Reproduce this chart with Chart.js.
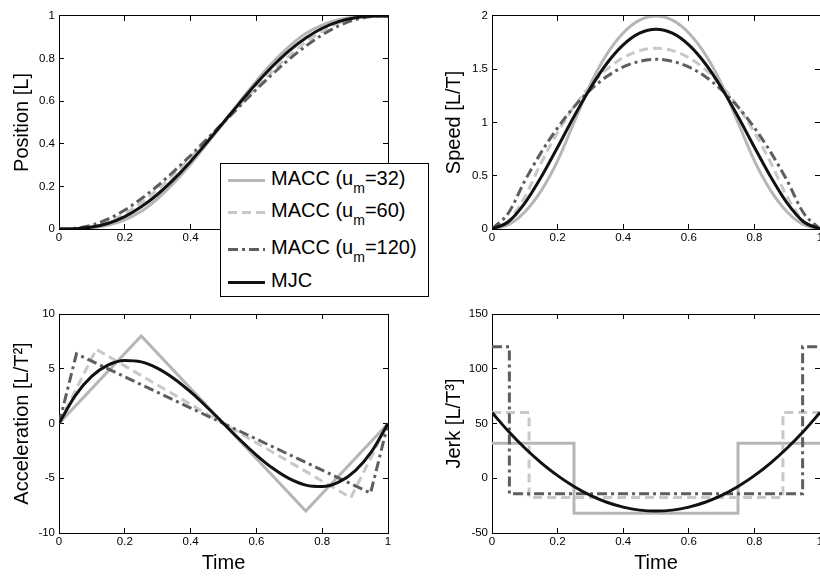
<!DOCTYPE html>
<html><head><meta charset="utf-8">
<script src="https://cdn.jsdelivr.net/npm/chart.js@4.4.1/dist/chart.umd.min.js"></script>
<style>
html,body{margin:0;padding:0;background:#fff;width:820px;height:578px;overflow:hidden;}
#wrap{position:relative;width:820px;height:578px;overflow:hidden;background:#fff;}
canvas{position:absolute;}
#legend{position:absolute;left:220px;top:163px;width:207px;height:132px;border:1px solid #000;background:#fff;
  font-family:'Liberation Sans',Arial,sans-serif;font-size:20px;color:#000;z-index:5;}
.row{position:absolute;left:0;width:207px;height:24px;line-height:24px;white-space:nowrap;color:#000;}
.row svg{position:absolute;left:7px;top:0;}
.row span{position:absolute;left:50px;top:-2px;color:#000;}
.row sub{font-size:14px;vertical-align:-8px;line-height:0;color:#000;}
</style></head>
<body>
<div id="wrap">
  <canvas id="cPos" width="410" height="290" style="left:0;top:0;width:410px;height:290px"></canvas>
  <canvas id="cSpd" width="430" height="290" style="left:410px;top:0;width:430px;height:290px"></canvas>
  <canvas id="cAcc" width="410" height="288" style="left:0;top:290px;width:410px;height:288px"></canvas>
  <canvas id="cJrk" width="430" height="288" style="left:410px;top:290px;width:430px;height:288px"></canvas>
  <div id="legend"></div>
</div>
<script>
// ---------------- data ----------------
const TIME = [0,0.05,0.1,0.15,0.2,0.25,0.3,0.35,0.4,0.45,0.5,0.55,0.6,0.65,0.7,0.75,0.8,0.85,0.9,0.95,1];

const POS_U32  = [0,0.001,0.005,0.018,0.043,0.083,0.143,0.218,0.305,0.401,0.5,0.599,0.695,0.782,0.857,0.917,0.957,0.982,0.995,0.999,1];
const POS_U60  = [0,0.001,0.01,0.033,0.072,0.123,0.186,0.257,0.335,0.417,0.5,0.583,0.665,0.743,0.814,0.877,0.928,0.967,0.99,0.999,1];
const POS_U120 = [0,0.003,0.018,0.047,0.089,0.142,0.203,0.272,0.345,0.423,0.5,0.577,0.655,0.728,0.797,0.858,0.911,0.953,0.982,0.997,1];
const POS_MJC  = [0,0.001,0.009,0.027,0.058,0.104,0.163,0.235,0.317,0.407,0.5,0.593,0.683,0.765,0.837,0.896,0.942,0.973,0.991,0.999,1];

const SPD_U32  = [0,0.04,0.16,0.36,0.64,1,1.36,1.64,1.84,1.96,2,1.96,1.84,1.64,1.36,1,0.64,0.36,0.16,0.04,0];
const SPD_U60  = [0,0.075,0.3,0.622,0.907,1.148,1.345,1.498,1.608,1.674,1.697,1.674,1.608,1.498,1.345,1.148,0.907,0.622,0.3,0.075,0];
const SPD_U120 = [0,0.15,0.452,0.719,0.95,1.146,1.306,1.431,1.521,1.574,1.593,1.574,1.521,1.431,1.306,1.146,0.95,0.719,0.452,0.15,0];
const SPD_MJC  = [0,0.068,0.243,0.488,0.768,1.055,1.323,1.553,1.728,1.838,1.875,1.838,1.728,1.553,1.323,1.055,0.768,0.488,0.243,0.068,0];

const ACC_U32_T  = [0,0.25,0.75,1];
const ACC_U32    = [0,8,-8,0];
const ACC_U60_T  = [0,0.113,0.887,1];
const ACC_U60    = [0,6.78,-6.78,0];
const ACC_U120_T = [0,0.053,0.947,1];
const ACC_U120   = [0,6.36,-6.36,0];
const ACC_MJC    = [0,2.565,4.32,5.355,5.76,5.625,5.04,4.095,2.88,1.485,0,-1.485,-2.88,-4.095,-5.04,-5.625,-5.76,-5.355,-4.32,-2.565,0];

const JRK_U32_T  = [0,0.25,0.25,0.75,0.75,1];
const JRK_U32    = [32,32,-32,-32,32,32];
const JRK_U60_T  = [0,0.113,0.113,0.887,0.887,1];
const JRK_U60    = [60,60,-17.5,-17.5,60,60];
const JRK_U120_T = [0,0.053,0.053,0.947,0.947,1];
const JRK_U120   = [120,120,-14.2,-14.2,120,120];
const JRK_MJC    = [60,42.9,27.6,14.1,2.4,-7.5,-15.6,-21.9,-26.4,-29.1,-30,-29.1,-26.4,-21.9,-15.6,-7.5,2.4,14.1,27.6,42.9,60];

const SERIES_NAMES = ['MACC (u|m|=32)','MACC (u|m|=60)','MACC (u|m|=120)','MJC'];
const X_TICKS = {min:0, max:1, step:0.2};
const Y_POS = {min:0, max:1, step:0.2};
const Y_SPD = {min:0, max:2, step:0.5};
const Y_ACC = {min:-10, max:10, step:5};
const Y_JRK = {min:-50, max:150, step:50};

// ---------------- styles ----------------
const STYLES = [
  {color:'#b6b6b6', width:3, dash:[], order:3},
  {color:'#c8c8c8', width:3, dash:[9,5], order:2},
  {color:'#5e5e5e', width:3, dash:[10,4,3,4], order:1},
  {color:'#111111', width:3, dash:[], order:0}
];
const TICK_FONT = {family:"'Liberation Sans Narrow','Liberation Sans',Arial,sans-serif", size:11.5};
const TITLE_FONT = {family:"'Liberation Sans',Arial,sans-serif", size:20};

function lineDs(style, xs, ys, smooth){
  return {
    data: xs.map((x,i)=>({x:x, y:ys[i]})),
    borderColor: style.color, borderWidth: style.width, borderDash: style.dash,
    borderCapStyle:'butt', borderJoinStyle:'miter',
    pointRadius:0, pointHoverRadius:0, fill:false, order: style.order,
    tension:0, cubicInterpolationMode: smooth ? 'monotone' : 'default'
  };
}
const fmt = v => String(Math.round(v*1000)/1000);

function axis(pos, range, showLabels, size, title, titlePad){
  const horiz = (pos==='top'||pos==='bottom');
  return {
    type:'linear', position:pos, min:range.min, max:range.max,
    ticks:{display:showLabels, stepSize:range.step, padding: horiz?7:9, color:'#000', font:TICK_FONT,
           maxRotation:0, minRotation:0, autoSkip:false, callback: fmt},
    grid:{drawOnChartArea:false, drawTicks:true, tickLength:-5, color:'#000', lineWidth:1},
    border:{display:true, color:'#000', width:1},
    title: title ? {display:true, text:title, color:'#000', font:TITLE_FONT,
                    padding: horiz ? {top:0,bottom:titlePad} : {top:titlePad,bottom:0}} : {display:false},
    afterFit: s => { if (horiz) s.height = size; else s.width = size; }
  };
}

function makePlot(id, cfg){
  return new Chart(document.getElementById(id), {
    type:'line',
    data:{datasets: cfg.datasets},
    options:{
      responsive:false, animation:false, devicePixelRatio:1, events:[],
      layout:{padding:0},
      plugins:{legend:{display:false}, tooltip:{enabled:false}},
      scales:{
        x:  axis('bottom', X_TICKS, true, cfg.bottom, cfg.xTitle, 3),
        x2: axis('top', X_TICKS, false, cfg.top, null, 0),
        y:  axis('left', cfg.yr, true, cfg.left, cfg.yTitle, cfg.yTitlePad),
        y2: axis('right', cfg.yr, false, cfg.right, null, 0)
      }
    }
  });
}

makePlot('cPos', {
  yr:Y_POS, left:59, right:22, top:9, bottom:61, yTitle:'Position [L]', yTitlePad:10, xTitle:null,
  datasets:[lineDs(STYLES[0],TIME,POS_U32,true), lineDs(STYLES[1],TIME,POS_U60,true),
            lineDs(STYLES[2],TIME,POS_U120,true), lineDs(STYLES[3],TIME,POS_MJC,true)]
});
makePlot('cSpd', {
  yr:Y_SPD, left:82, right:20, top:9, bottom:61, yTitle:'Speed [L/T]', yTitlePad:32, xTitle:null,
  datasets:[lineDs(STYLES[0],TIME,SPD_U32,true), lineDs(STYLES[1],TIME,SPD_U60,true),
            lineDs(STYLES[2],TIME,SPD_U120,true), lineDs(STYLES[3],TIME,SPD_MJC,true)]
});
makePlot('cAcc', {
  yr:Y_ACC, left:59, right:22, top:24, bottom:45, yTitle:'Acceleration [L/T\u00B2]', yTitlePad:10, xTitle:'Time',
  datasets:[lineDs(STYLES[0],ACC_U32_T,ACC_U32,false), lineDs(STYLES[1],ACC_U60_T,ACC_U60,false),
            lineDs(STYLES[2],ACC_U120_T,ACC_U120,false), lineDs(STYLES[3],TIME,ACC_MJC,true)]
});
makePlot('cJrk', {
  yr:Y_JRK, left:82, right:20, top:24, bottom:45, yTitle:'Jerk [L/T\u00B3]', yTitlePad:32, xTitle:'Time',
  datasets:[lineDs(STYLES[0],JRK_U32_T,JRK_U32,false), lineDs(STYLES[1],JRK_U60_T,JRK_U60,false),
            lineDs(STYLES[2],JRK_U120_T,JRK_U120,false), lineDs(STYLES[3],TIME,JRK_MJC,true)]
});

// ---------------- legend (HTML overlay, real text with subscripts) ----------------
const LEG_ROW_TOPS = [4, 36, 73, 106];
const leg = document.getElementById('legend');
SERIES_NAMES.forEach((name, i) => {
  const st = STYLES[i];
  const row = document.createElement('div');
  row.className = 'row';
  row.style.top = LEG_ROW_TOPS[i] + 'px';
  const svg = `<svg width="40" height="24"><line x1="0" y1="12.5" x2="37" y2="12.5" stroke="${st.color}" stroke-width="${st.width}" stroke-dasharray="${st.dash.join(',')||'none'}"/></svg>`;
  const parts = name.split('|');
  const label = parts.length === 3 ? `${parts[0]}<sub>${parts[1]}</sub>${parts[2]}` : name;
  row.innerHTML = svg + `<span>${label}</span>`;
  leg.appendChild(row);
});
</script>
</body></html>
